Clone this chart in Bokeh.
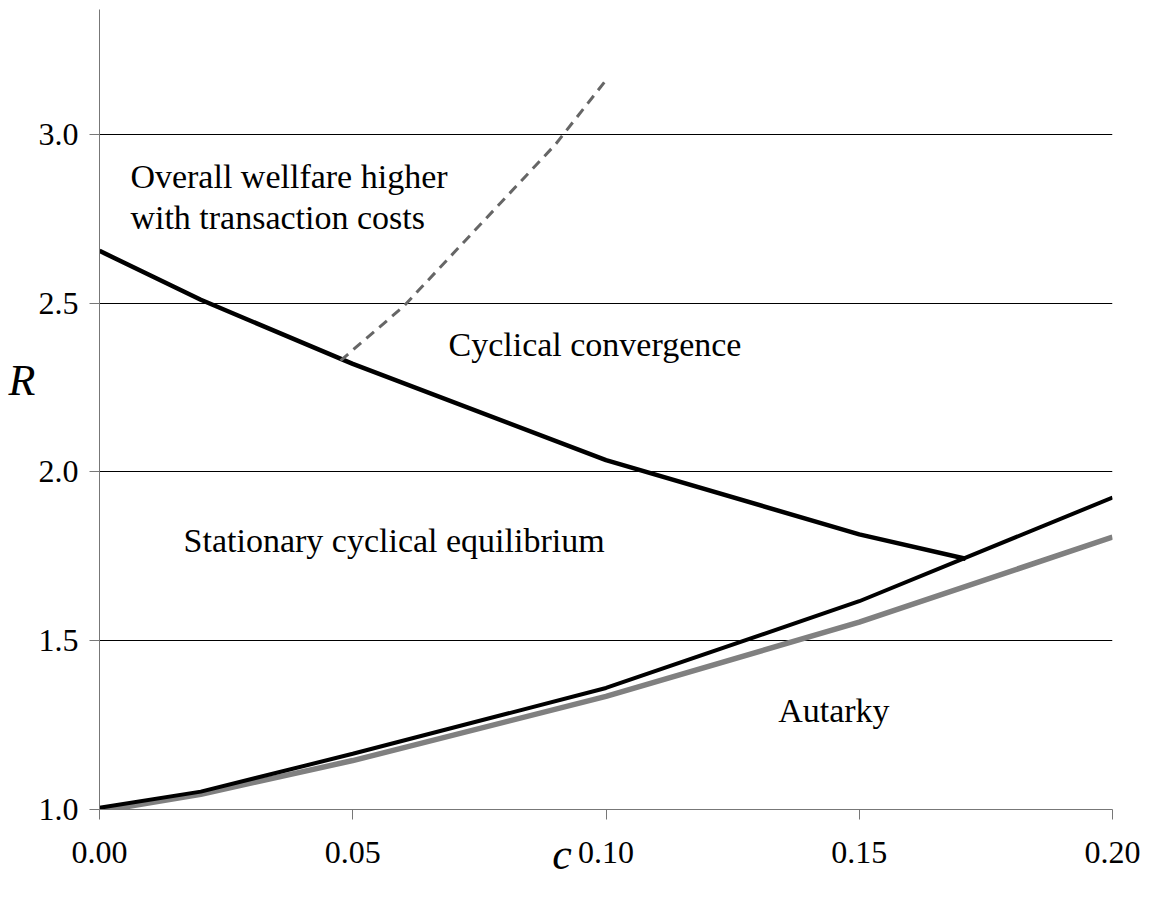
from bokeh.plotting import figure
from bokeh.models import Range1d, FixedTicker, Label, PrintfTickFormatter
from bokeh.embed import file_html
from bokeh.resources import INLINE

# ---- data ----
c_lower = [0.0, 0.02, 0.05, 0.10, 0.15, 0.20]
r_black_lower = [1.005, 1.053, 1.165, 1.36, 1.617, 1.924]
r_gray = [0.995, 1.045, 1.145, 1.335, 1.555, 1.807]

c_upper = [0.0, 0.02, 0.05, 0.10, 0.15, 0.171]
r_upper = [2.655, 2.51, 2.32, 2.035, 1.815, 1.743]

c_dash = [0.0476, 0.06, 0.075, 0.09, 0.1005]
r_dash = [2.33, 2.49, 2.73, 2.97, 3.17]

x_ticks = [0.0, 0.05, 0.10, 0.15, 0.20]
y_ticks = [1.0, 1.5, 2.0, 2.5, 3.0]
grid_ticks = [1.5, 2.0, 2.5, 3.0]

FONT = "Liberation Serif"
NB = "\u00a0"

p = figure(width=1148, height=889, output_backend="svg", toolbar_location=None,
           x_range=Range1d(0.0, 0.20), y_range=Range1d(1.0, 3.37),
           min_border_left=99, min_border_right=36, min_border_top=9, min_border_bottom=80)
p.outline_line_color = None
p.background_fill_color = "white"

# axes
for ax in (p.xaxis[0], p.yaxis[0]):
    ax.axis_line_color = "#777777"
    ax.axis_line_width = 1
    ax.major_tick_line_color = "#777777"
    ax.major_tick_out = 10
    ax.major_tick_in = 0
    ax.minor_tick_line_color = None
    ax.major_label_text_font = FONT
    ax.major_label_text_font_size = "32px"
    ax.major_label_text_color = "black"
    ax.axis_label_text_font = FONT
    ax.axis_label_text_font_size = "44px"
    ax.axis_label_text_font_style = "italic"
    ax.axis_label_text_color = "black"

p.xaxis.ticker = FixedTicker(ticks=x_ticks)
p.yaxis.ticker = FixedTicker(ticks=y_ticks)
p.xaxis.formatter = PrintfTickFormatter(format="%.2f")
p.yaxis.formatter = PrintfTickFormatter(format="%.1f")
p.xaxis.major_label_standoff = 22
p.yaxis.major_label_standoff = 11

p.yaxis.axis_label = "R\n" + NB
p.yaxis.axis_label_orientation = "horizontal"
p.yaxis.axis_label_standoff = 0
p.xaxis.axis_label = "c" + NB * 8
p.xaxis.axis_label_standoff = -36

p.xgrid.grid_line_color = None
p.ygrid.ticker = FixedTicker(ticks=grid_ticks)
p.ygrid.grid_line_color = "black"
p.ygrid.grid_line_width = 1

# curves
p.line(c_lower, r_gray, line_color="#808080", line_width=5.5)
p.line(c_lower, r_black_lower, line_color="black", line_width=4)
p.line(c_upper, r_upper, line_color="black", line_width=4.5)
p.line(c_dash, r_dash, line_color="#666666", line_width=3, line_dash="10 7")

# annotations
def lab(x, y, text, size="34px"):
    p.add_layout(Label(x=x, y=y, text=text, text_font=FONT, text_font_size=size,
                       text_align="left", text_baseline="alphabetic", text_color="black"))

lab(0.0061, 2.876, "Overall wellfare higher")
lab(0.0061, 2.755, "with transaction costs")
lab(0.0689, 2.379, "Cyclical convergence")
lab(0.0166, 1.796, "Stationary cyclical equilibrium")
lab(0.134, 1.293, "Autarky")

open("out.html", "w").write(file_html(p, INLINE))
